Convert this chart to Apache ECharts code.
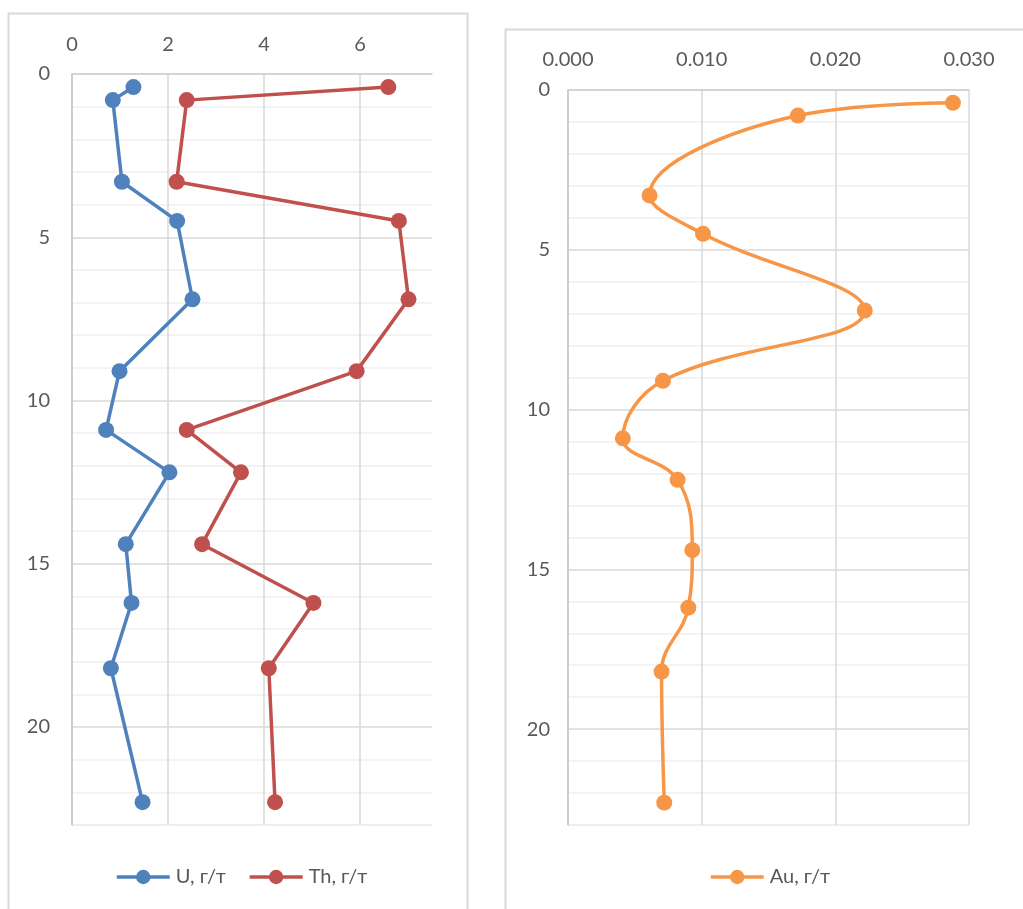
<!DOCTYPE html>
<html>
<head>
<meta charset="utf-8">
<script src="https://cdn.jsdelivr.net/npm/echarts@6/dist/echarts.min.js"></script>
<style>
  html, body { margin: 0; padding: 0; background: #ffffff; }
  #chart { width: 1023px; height: 909px; }
</style>
</head>
<body>
<div id="chart"></div>
<script>
// Sample depths (m) shared by all three profiles
const depth = [0.4, 0.8, 3.3, 4.5, 6.9, 9.1, 10.9, 12.2, 14.4, 16.2, 18.2, 22.3];

// Concentrations, g/t
const uranium = [1.28, 0.85, 1.04, 2.19, 2.51, 0.99, 0.71, 2.03, 1.12, 1.24, 0.81, 1.47];
const thorium = [6.59, 2.39, 2.18, 6.81, 7.01, 5.93, 2.39, 3.52, 2.71, 5.03, 4.10, 4.23];
const gold = [0.0288, 0.0172, 0.0061, 0.0101, 0.0222, 0.0071, 0.0041, 0.0082, 0.0093, 0.0090, 0.0070, 0.0072];

const seriesNames = ['U, г/т', 'Th, г/т', 'Au, г/т'];
const depthTicks = { min: 0, max: 23, interval: 5 };

const FONT = 'Lato, "Open Sans", sans-serif';
const TEXT = '#595959';
const MAJOR = '#D9D9D9';
const MINOR = '#F0F0F0';

const pairs = vals => vals.map((v, i) => [v, depth[i]]);

function depthAxis(gridIndex, margin) {
  return {
    type: 'value', gridIndex, inverse: true,
    min: depthTicks.min, max: depthTicks.max, interval: depthTicks.interval,
    axisLine: { show: true, lineStyle: { color: '#C6C6C6', width: 1.5 } },
    axisTick: { show: false },
    axisLabel: { color: TEXT, fontSize: 20, fontFamily: FONT, margin, showMaxLabel: false },
    splitLine: { show: true, lineStyle: { color: [MAJOR, MAJOR, MAJOR, MAJOR, MAJOR, '#E8E8E8'], width: 1.5 } },
    minorTick: { show: false, splitNumber: 5 },
    minorSplitLine: { show: true, lineStyle: { color: MINOR, width: 1.5 } }
  };
}

function valueAxis(gridIndex, opts) {
  return Object.assign({
    type: 'value', gridIndex, position: 'top',
    axisLine: { show: true, lineStyle: { color: '#CFCFCF', width: 1.5 } },
    axisTick: { show: false },
    splitLine: { show: true, lineStyle: { color: MAJOR, width: 1.5 } }
  }, opts);
}

function lineSeries(name, color, data, xi, yi, smooth) {
  return {
    name, type: 'line', data, xAxisIndex: xi, yAxisIndex: yi,
    smooth: smooth,
    symbol: 'circle', symbolSize: 16,
    itemStyle: { color },
    lineStyle: { color, width: 3.5 },
    emphasis: { disabled: true },
    z: 3
  };
}

const legendBase = {
  itemWidth: 53, itemHeight: 18, padding: 0,
  textStyle: { color: TEXT, fontSize: 20, fontFamily: FONT, padding: [0, 0, 0, 1] },
  lineStyle: { width: 3.5 },
  selectedMode: false
};

const chart = echarts.init(document.getElementById('chart'), null, { renderer: 'canvas' });

chart.setOption({
  animation: false,
  backgroundColor: '#ffffff',
  graphic: [
    { type: 'rect', shape: { x: 8.5, y: 13.5, width: 459, height: 920 }, style: { fill: 'none', stroke: '#D9D9D9', lineWidth: 2 }, silent: true, z: -10 },
    { type: 'rect', shape: { x: 505.5, y: 29.5, width: 540, height: 900 }, style: { fill: 'none', stroke: '#D9D9D9', lineWidth: 2 }, silent: true, z: -10 }
  ],
  grid: [
    { left: 72, top: 74, width: 360, height: 751 },
    { left: 568, top: 90, width: 401, height: 735 }
  ],
  xAxis: [
    valueAxis(0, {
      min: 0, max: 7.5, interval: 2,
      axisLabel: { color: TEXT, fontSize: 20, fontFamily: FONT, margin: 19, showMaxLabel: false },
      splitLine: { show: true, showMaxLine: false, lineStyle: { color: MAJOR, width: 1.5 } }
    }),
    valueAxis(1, {
      min: 0, max: 0.03, interval: 0.01,
      axisLabel: { color: TEXT, fontSize: 20, fontFamily: FONT, margin: 20, formatter: v => v.toFixed(3) }
    })
  ],
  yAxis: [depthAxis(0, 22), depthAxis(1, 18)],
  legend: [
    Object.assign({ data: [seriesNames[0], seriesNames[1]], left: 115, top: 867, itemGap: 22 }, legendBase),
    Object.assign({ data: [seriesNames[2]], left: 709, top: 867 }, legendBase)
  ],
  series: [
    lineSeries(seriesNames[0], '#4F81BD', pairs(uranium), 0, 0, false),
    lineSeries(seriesNames[1], '#C0504D', pairs(thorium), 0, 0, false),
    lineSeries(seriesNames[2], '#F79646', pairs(gold), 1, 1, 0.4)
  ]
});
</script>
</body>
</html>
